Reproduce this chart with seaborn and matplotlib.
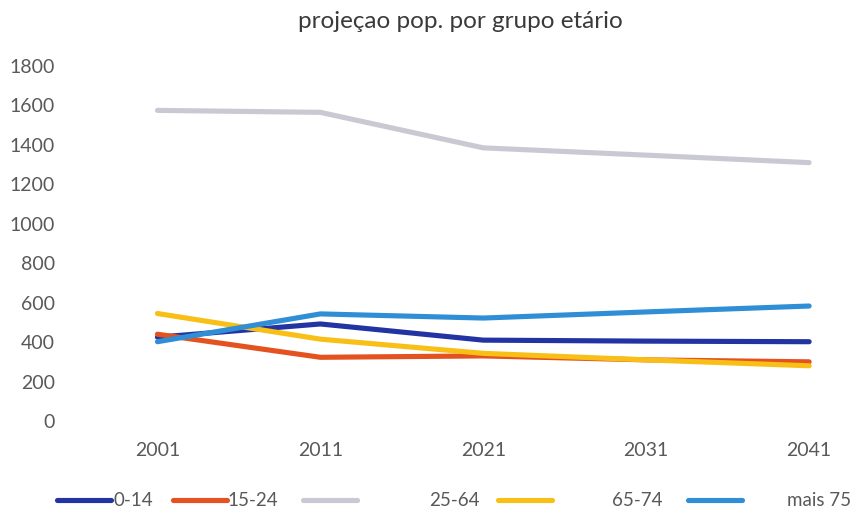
import matplotlib
matplotlib.use("Agg")
import matplotlib.pyplot as plt
import seaborn as sns
import pandas as pd

# Population projection by age group
anos = [2001, 2011, 2021, 2031, 2041]
grupos = ["0-14", "15-24", "25-64", "65-74", "mais 75"]
pop_0_14 = [425, 492, 410, 405, 402]
pop_15_24 = [440, 323, 330, 310, 300]
pop_25_64 = [1575, 1565, 1385, 1348, 1310]
pop_65_74 = [545, 415, 343, 310, 280]
pop_mais_75 = [402, 543, 522, 553, 583]
yticks = [0, 200, 400, 600, 800, 1000, 1200, 1400, 1600, 1800]

cores = ["#2233a3", "#e4521f", "#c9c9d3", "#f8c016", "#2f8ed6"]

series = [pop_0_14, pop_15_24, pop_25_64, pop_65_74, pop_mais_75]
df = pd.DataFrame({
    "ano": anos * len(grupos),
    "pop": [v for s in series for v in s],
    "grupo": [g for g in grupos for _ in anos],
})

sns.set_theme(style="white")
plt.rcParams["font.family"] = ["Lato", "DejaVu Sans"]

W, H = 858, 515
fig = plt.figure(figsize=(W / 100, H / 100), dpi=100)
ax = fig.add_axes([76 / W, 1 - 421 / H, (W - 76) / W, (421 - 66) / H])

sns.lineplot(data=df, x="ano", y="pop", hue="grupo", hue_order=grupos,
             palette=dict(zip(grupos, cores)), linewidth=3.7, ax=ax,
             solid_capstyle="round", legend=True)
handles, labels = ax.get_legend_handles_labels()
ax.get_legend().remove()

ax.set_xlim(1996, 2044)
ax.set_ylim(0, 1800)
ax.set_xticks(anos)
ax.set_xticklabels([str(a) for a in anos])
ax.set_yticks(yticks)
ax.set_yticklabels([str(v) for v in yticks])
ax.tick_params(axis="y", length=0, pad=15, labelsize=14, labelcolor="#595959")
ax.tick_params(axis="x", length=0, pad=15, labelsize=14, labelcolor="#595959")
ax.set_xlabel("")
ax.set_ylabel("")
for sp in ax.spines.values():
    sp.set_visible(False)

fig.text(460 / W, 1 - 21 / H, "projeçao pop. por grupo etário",
         ha="center", va="center", fontsize=17.5, color="#3a3a3a")

# legend entries laid out along the bottom, one per series
fs = 13.5
px_em = fs * 100 / 72
starts = [57, 173, 303, 498, 688]
pads = [2, 0, 72, 60, 45]
for h, lab, x0, gap in zip(handles, labels, starts, pads):
    fig.legend([h], [lab], loc="center left",
               bbox_to_anchor=(x0 / W, 1 - 501 / H),
               frameon=False, fontsize=fs, borderpad=0, borderaxespad=0,
               handlelength=54 / px_em, handletextpad=gap / px_em,
               labelcolor="#595959")

fig.savefig("out.png", dpi=100)
